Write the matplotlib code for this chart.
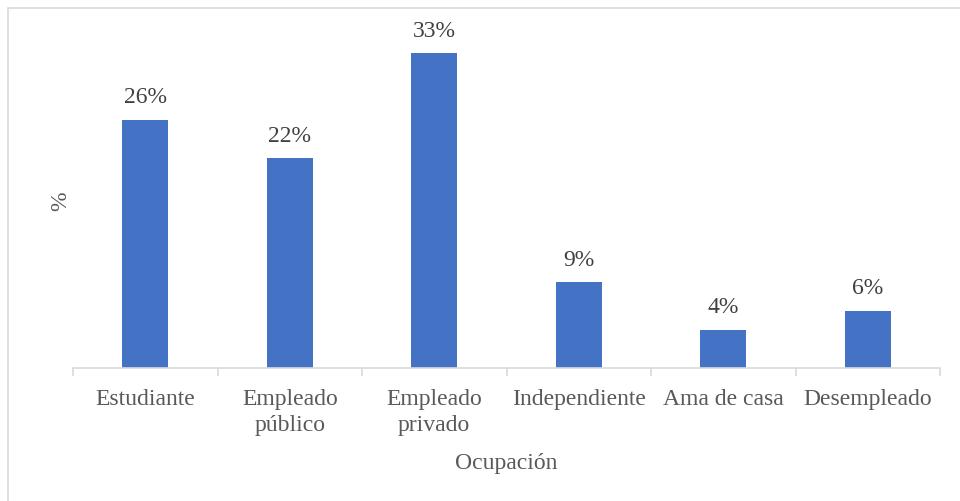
import matplotlib.pyplot as plt
from matplotlib.patches import Rectangle

categorias = ['Estudiante', 'Empleado\npúblico', 'Empleado\nprivado',
              'Independiente', 'Ama de casa', 'Desempleado']
valores = [26, 22, 33, 9, 4, 6]

GRIS = '#595959'
AZUL = '#4472c4'

plt.rcParams['font.family'] = ['Liberation Serif', 'DejaVu Serif']


def main():
    fig = plt.figure(figsize=(9.6, 5.01), dpi=100)
    fig.patches.append(Rectangle((8 / 960, -0.1), 1.2, 1 - 8 / 501 + 0.1,
                                 transform=fig.transFigure, fill=False,
                                 edgecolor='#d9d9d9', linewidth=1.2))
    ax = fig.add_axes([73 / 960, 1 - 368 / 501, 867 / 960, 334 / 501])

    x = range(len(categorias))
    ax.bar(x, valores, width=0.32, color=AZUL)
    for i, v in zip(x, valores):
        ax.text(i, v + 1.2, f'{v}%', ha='center', va='bottom',
                fontsize=17, color='#404040')

    ax.set_xlim(-0.5, len(categorias) - 0.5)
    ax.set_ylim(0, 35)
    for s in ['top', 'right', 'left']:
        ax.spines[s].set_visible(False)
    ax.spines['bottom'].set_color('#d9d9d9')
    ax.spines['bottom'].set_linewidth(1.2)
    ax.set_yticks([])

    ax.set_xticks(list(x))
    ax.set_xticklabels(categorias, fontsize=17, color=GRIS, linespacing=1.35)
    ax.tick_params(axis='x', which='major', length=0, pad=15)
    ax.set_xticks([i - 0.5 for i in range(len(categorias) + 1)], minor=True)
    ax.tick_params(axis='x', which='minor', length=6, color='#d9d9d9', width=1.2)

    ax.set_xlabel('Ocupación', fontsize=17, color=GRIS)
    ax.xaxis.set_label_coords(0.5, -0.255)
    ax.set_ylabel('%', fontsize=17, color=GRIS)
    ax.yaxis.set_label_coords(-0.002, 0.5)

    fig.savefig('out.png', dpi=100)


if __name__ == '__main__':
    main()
